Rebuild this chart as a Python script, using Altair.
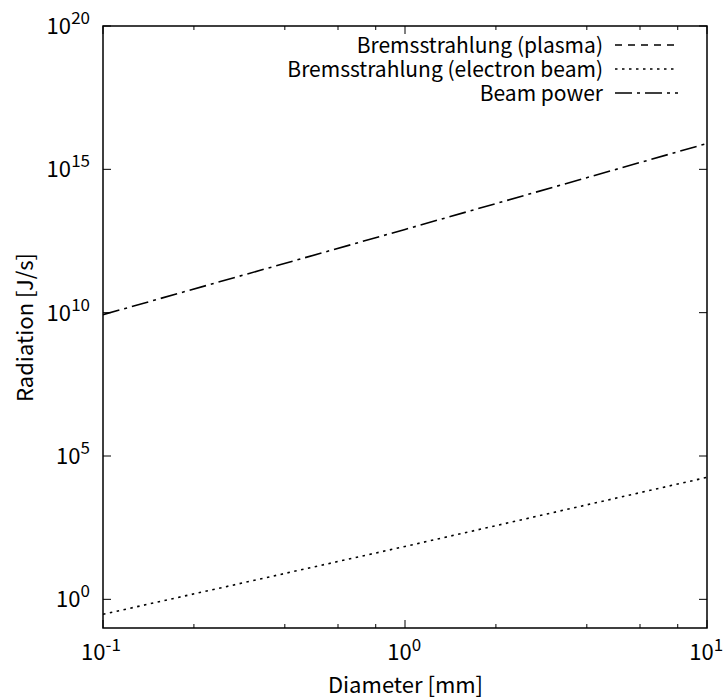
import altair as alt
import pandas as pd

# ---- data ----
diameter = [0.1, 1.0, 10.0]                       # mm
brems_plasma = [1e-6, 1e-4, 1e-2]                  # lies below the plotted range
brems_beam = [0.3, 70.0, 1.8e4]                    # J/s
beam_power = [8.5e9, 8.0e12, 8.0e15]               # J/s

series_names = ["Bremsstrahlung (plasma)", "Bremsstrahlung (electron beam)", "Beam power"]
series_values = [brems_plasma, brems_beam, beam_power]
series_dash = [[7, 6], [2.5, 4.5], [17, 5, 3, 5]]

x_major = [0.1, 1.0, 10.0]
x_exp = ["-1", "0", "1"]
x_minor = [0.2, 0.4, 0.6, 0.8, 2, 4, 6, 8]
y_major = [1.0, 1e5, 1e10, 1e15, 1e20]
y_exp = ["0", "5", "10", "15", "20"]

FONT = "Noto Sans CJK JP"
W, H = 604, 602
BASE_FS = 22
EXP_FS = 17
LEG_FS = 21
LEG_STEP = 24

rows = []
for name, vals in zip(series_names, series_values):
    for d, r in zip(diameter, vals):
        rows.append({"d": d, "r": r, "series": name})
df = pd.DataFrame(rows)

xs = alt.Scale(type="log", domain=[0.1, 10], nice=False)
ys = alt.Scale(type="log", domain=[0.1, 1e20], nice=False)
xaxis = alt.Axis(title="Diameter [mm]", labels=False, ticks=False, domain=False, grid=False,
                 titleFont=FONT, titleFontSize=BASE_FS, titleFontWeight="normal",
                 titleColor="black", titleBaseline="alphabetic", titlePadding=64)
yaxis = alt.Axis(title="Radiation [J/s]", labels=False, ticks=False, domain=False, grid=False,
                 titleFont=FONT, titleFontSize=BASE_FS, titleFontWeight="normal",
                 titleColor="black", titleBaseline="alphabetic", titlePadding=71)


def X(field):
    return alt.X(f"{field}:Q", scale=xs, axis=xaxis)


def Y(field):
    return alt.Y(f"{field}:Q", scale=ys, axis=yaxis)


lines = alt.Chart(df).mark_line(clip=True, color="black", strokeWidth=1.6).encode(
    x=X("d"), y=Y("r"), detail="series:N",
    strokeDash=alt.StrokeDash("series:N", scale=alt.Scale(domain=series_names, range=series_dash),
                              legend=None),
)

layers = [lines]

# inward ticks, mirrored
dfxM = pd.DataFrame({"t": x_major})
dfxm = pd.DataFrame({"t": x_minor})
dfyM = pd.DataFrame({"t": y_major})
for dft, ln in [(dfxM, 8), (dfxm, 4)]:
    layers.append(alt.Chart(dft).mark_rule(color="black", strokeWidth=1).encode(
        x=X("t"), y=alt.value(H), y2=alt.value(H - ln)))
    layers.append(alt.Chart(dft).mark_rule(color="black", strokeWidth=1).encode(
        x=X("t"), y=alt.value(0), y2=alt.value(ln)))
layers.append(alt.Chart(dfyM).mark_rule(color="black", strokeWidth=1).encode(
    y=Y("t"), x=alt.value(0), x2=alt.value(8)))
layers.append(alt.Chart(dfyM).mark_rule(color="black", strokeWidth=1).encode(
    y=Y("t"), x=alt.value(W), x2=alt.value(W - 8)))

# tick labels: 10 with superscript exponent
for t, e in zip(x_major, x_exp):
    ew = 8.5 * len(e)
    dx = 11 - ew / 2
    d1 = pd.DataFrame({"t": [t], "txt": ["10"]})
    d2 = pd.DataFrame({"t": [t], "txt": [e]})
    layers.append(alt.Chart(d1).mark_text(font=FONT, fontSize=BASE_FS, align="right",
                                          baseline="alphabetic", dx=dx, color="black").encode(
        x=X("t"), y=alt.value(H + 32), text="txt:N"))
    layers.append(alt.Chart(d2).mark_text(font=FONT, fontSize=EXP_FS, align="left",
                                          baseline="alphabetic", dx=dx, color="black").encode(
        x=X("t"), y=alt.value(H + 23), text="txt:N"))

for t, e in zip(y_major, y_exp):
    ew = 9.5 * len(e)
    d1 = pd.DataFrame({"t": [t], "txt": ["10"]})
    d2 = pd.DataFrame({"t": [t], "txt": [e]})
    layers.append(alt.Chart(d1).mark_text(font=FONT, fontSize=BASE_FS, align="right",
                                          baseline="alphabetic", dy=8, color="black").encode(
        y=Y("t"), x=alt.value(-13 - ew), text="txt:N"))
    layers.append(alt.Chart(d2).mark_text(font=FONT, fontSize=EXP_FS, align="right",
                                          baseline="alphabetic", dy=-2, color="black").encode(
        y=Y("t"), x=alt.value(-13), text="txt:N"))

# legend (gnuplot style: text right, sample after)
for i, (name, dash) in enumerate(zip(series_names, series_dash)):
    dl = pd.DataFrame({"txt": [name]})
    layers.append(alt.Chart(dl).mark_text(font=FONT, fontSize=LEG_FS, align="right",
                                          baseline="alphabetic", color="black").encode(
        x=alt.value(500), y=alt.value(27 + LEG_STEP * i), text="txt:N"))
    layers.append(alt.Chart(dl).mark_rule(color="black", strokeWidth=1.6, strokeDash=dash).encode(
        x=alt.value(512), x2=alt.value(575), y=alt.value(19 + LEG_STEP * i)))

chart = alt.layer(*layers).properties(
    width=W, height=H,
    autosize=alt.AutoSizeParams(type="none"),
    padding={"left": 103, "top": 26, "right": 19, "bottom": 69},
    background="white",
).configure_view(stroke="black", strokeWidth=1.5)

chart.save("out.html", embed_options={"renderer": "svg", "actions": False})
